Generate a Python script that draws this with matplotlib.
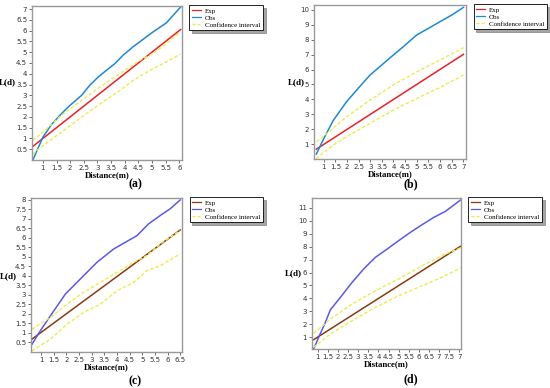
import matplotlib
matplotlib.use("Agg")
import matplotlib.pyplot as plt
import numpy as np

plt.rcParams['font.family'] = ['Liberation Serif', 'DejaVu Serif']

# ---- panel (a) ----
a_exp_x = [0.62, 6.05]
a_exp_y = [0.62, 6.05]
a_obs_x = [0.64, 1.0, 1.32, 1.68, 1.99, 2.42, 2.72, 3.03, 3.33, 3.64, 3.94, 4.31, 4.67, 5.04, 5.53, 6.04]
a_obs_y = [0.02, 1.06, 1.65, 2.15, 2.53, 3.0, 3.47, 3.85, 4.16, 4.47, 4.86, 5.25, 5.59, 5.94, 6.36, 7.08]
a_hi_x = [0.62, 1.0, 1.68, 2.42, 3.1, 3.83, 4.57, 5.04, 5.53, 6.04]
a_hi_y = [0.91, 1.29, 2.07, 2.77, 3.39, 4.01, 4.63, 4.94, 5.4, 5.94]
a_lo_x = [0.62, 1.0, 1.68, 2.42, 3.1, 3.83, 4.31, 5.04, 5.53, 6.04]
a_lo_y = [0.26, 0.67, 1.29, 1.99, 2.61, 3.23, 3.7, 4.24, 4.55, 4.91]

# ---- panel (b) ----
b_exp_x = [0.68, 7.01]
b_exp_y = [0.66, 7.02]
b_obs_x = [0.68, 0.97, 1.40, 1.98, 2.48, 2.99, 3.49, 3.99, 4.42, 5.0, 5.5, 6.0, 6.51, 7.01]
b_obs_y = [0.33, 1.27, 2.57, 3.84, 4.74, 5.63, 6.3, 6.97, 7.53, 8.32, 8.76, 9.21, 9.66, 10.17]
b_hi_x = [0.68, 0.97, 1.47, 1.98, 2.99, 3.99, 5.0, 6.0, 7.01]
b_hi_y = [1.16, 1.49, 2.16, 2.83, 3.95, 4.96, 5.85, 6.64, 7.47]
b_lo_x = [0.68, 0.97, 1.47, 1.98, 2.99, 3.99, 5.0, 6.0, 7.01]
b_lo_y = [0.0, 0.42, 1.0, 1.49, 2.39, 3.28, 4.06, 4.8, 5.63]

# ---- panel (c) ----
c_exp_x = [0.64, 6.5]
c_exp_y = [0.68, 6.42]
c_obs_x = [0.64, 0.97, 1.37, 1.96, 2.55, 3.21, 3.87, 4.33, 4.79, 5.25, 5.71, 6.1, 6.5]
c_obs_y = [0.41, 1.12, 1.91, 3.05, 3.84, 4.72, 5.42, 5.77, 6.12, 6.74, 7.18, 7.53, 8.0]
c_hi_x = [0.64, 1.37, 2.03, 2.68, 3.34, 4.0, 4.66, 5.18, 5.71, 6.5]
c_hi_y = [1.2, 1.82, 2.52, 3.14, 3.66, 4.19, 4.72, 5.07, 5.68, 6.39]
c_lo_x = [0.64, 1.37, 2.03, 2.68, 3.34, 4.0, 4.66, 5.18, 5.71, 6.5]
c_lo_y = [0.06, 0.68, 1.47, 2.08, 2.52, 3.22, 3.66, 4.28, 4.54, 5.16]

# ---- panel (d) ----
d_exp_x = [0.8, 8.05]
d_exp_y = [0.82, 8.02]
d_obs_x = [0.8, 1.05, 1.38, 1.63, 2.12, 2.7, 3.27, 3.85, 4.43, 5.0, 5.58, 6.16, 6.73, 7.31, 8.05]
d_obs_y = [0.1, 1.0, 2.16, 3.13, 4.08, 5.24, 6.27, 7.17, 7.81, 8.46, 9.1, 9.69, 10.25, 10.72, 11.59]
d_hi_x = [0.8, 1.63, 2.7, 3.85, 5.0, 6.16, 7.31, 8.05]
d_hi_y = [1.31, 2.41, 3.57, 4.6, 5.5, 6.53, 7.43, 7.89]
d_lo_x = [0.8, 1.63, 2.7, 3.85, 5.0, 6.16, 7.31, 8.05]
d_lo_y = [0.23, 1.26, 2.29, 3.31, 4.21, 4.98, 5.76, 6.35]

d_xticks = [1, 1.5, 2, 2.5, 3, 3.5, 4, 4.5, 5, 5.5, 6, 6.5, 7, 7.5, 8]
d_xlabels = ['1', '1.5', '2', '2.5', '3', '3.5', '4', '4.5', '5', '5.5', '6', '6.5', '7', '7.5', '7']


def fmt(v):
    return ('%g' % v)


def panel(ax, exp, obs, hi, lo, cexp, cobs, xlim, ylim, xticks, yticks, ylab_xy, xlabels=None):
    ax.plot(*exp, color=cexp, lw=1.1, label='Exp')
    ax.plot(*obs, color=cobs, lw=1.1, label='Obs')
    ax.plot(*hi, color='#ecec50', lw=1.0, ls=(0, (2.5, 1.5)), label='Confidence interval')
    ax.plot(*lo, color='#ecec50', lw=1.0, ls=(0, (2.5, 1.5)))
    ax.set_xlim(*xlim)
    ax.set_ylim(*ylim)
    ax.set_xticks(xticks)
    ax.set_xticklabels(xlabels if xlabels else [fmt(v) for v in xticks])
    ax.set_yticks(yticks)
    ax.set_yticklabels([fmt(v) for v in yticks])
    ax.tick_params(labelsize=5, length=2, width=0.5, pad=1.5, colors='#333333')
    for lab in ax.get_xticklabels() + ax.get_yticklabels():
        lab.set_family('DejaVu Sans')
    for s in ax.spines.values():
        s.set_color('#999999')
        s.set_linewidth(1.0)
    ax.set_xlabel('Distance(m)', fontsize=6.3, fontweight='bold', labelpad=0)
    ax.set_ylabel('L(d)', fontsize=6.6, fontweight='bold', rotation=0, ha='center', va='center')
    ax.yaxis.set_label_coords(*ylab_xy)
    leg = ax.legend(loc='upper left', bbox_to_anchor=(1.05, 1.005), fontsize=5,
                    frameon=True, fancybox=False, shadow=True, handlelength=1.2,
                    handletextpad=0.6, borderpad=0.4, labelspacing=0.15, borderaxespad=0)
    leg.get_frame().set_edgecolor('black')
    leg.get_frame().set_linewidth(0.6)
    for ln in leg.get_lines():
        ln.set_linewidth(0.9)


fig = plt.figure(figsize=(5.5, 3.88), dpi=100)

ax_a = fig.add_axes([32 / 550, 1 - 160 / 388, 150 / 550, 154 / 388])
panel(ax_a, (a_exp_x, a_exp_y), (a_obs_x, a_obs_y), (a_hi_x, a_hi_y), (a_lo_x, a_lo_y),
      '#e8202a', '#1e88d0', (0.6, 6.1), (0, 7.14),
      np.arange(1, 6.01, 0.5), np.arange(0.5, 7.01, 0.5), (-0.163, 0.506))

ax_b = fig.add_axes([314 / 550, 1 - 159 / 388, 152 / 550, 154 / 388])
panel(ax_b, (b_exp_x, b_exp_y), (b_obs_x, b_obs_y), (b_hi_x, b_hi_y), (b_lo_x, b_lo_y),
      '#e8202a', '#1e88d0', (0.58, 7.12), (0, 10.33),
      np.arange(1, 7.01, 0.5), np.arange(1, 10.01, 1), (-0.118, 0.5))

ax_c = fig.add_axes([31 / 550, 1 - 352 / 388, 151 / 550, 154 / 388])
panel(ax_c, (c_exp_x, c_exp_y), (c_obs_x, c_obs_y), (c_hi_x, c_hi_y), (c_lo_x, c_lo_y),
      '#8a3a10', '#5a5ae6', (0.6, 6.57), (0, 8.1),
      np.arange(1, 6.51, 0.5), np.arange(0.5, 8.01, 0.5), (-0.15, 0.49))

ax_d = fig.add_axes([312 / 550, 1 - 349 / 388, 149 / 550, 151 / 388])
panel(ax_d, (d_exp_x, d_exp_y), (d_obs_x, d_obs_y), (d_hi_x, d_hi_y), (d_lo_x, d_lo_y),
      '#8a3a10', '#5a5ae6', (0.72, 8.08), (0.1, 11.75),
      d_xticks, np.arange(1, 11.01, 1), (-0.125, 0.5), d_xlabels)

fig.text(135 / 550, 1 - 184 / 388, '(a)', fontsize=8.5, fontweight='bold', ha='center', va='center')
fig.text(411 / 550, 1 - 184 / 388, '(b)', fontsize=8.5, fontweight='bold', ha='center', va='center')
fig.text(135 / 550, 1 - 381 / 388, '(c)', fontsize=8.5, fontweight='bold', ha='center', va='center')
fig.text(411 / 550, 1 - 379 / 388, '(d)', fontsize=8.5, fontweight='bold', ha='center', va='center')

fig.savefig('out.png', dpi=100, facecolor='white')
